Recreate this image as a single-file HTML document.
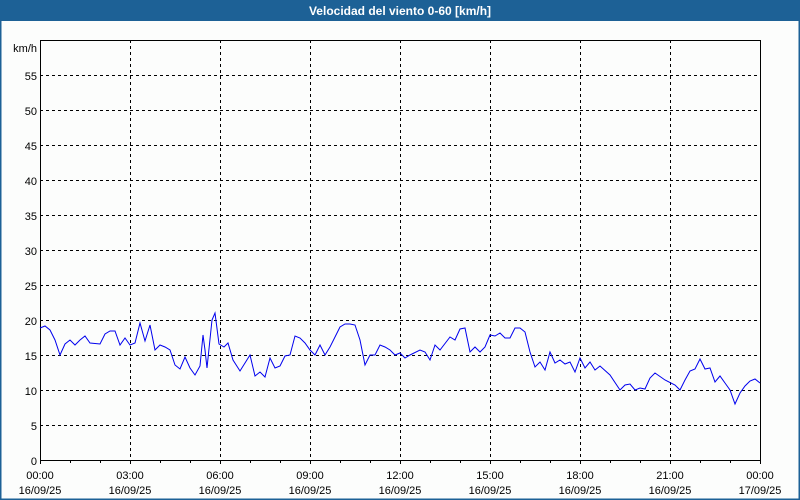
<!DOCTYPE html>
<html><head><meta charset="utf-8"><style>
body{margin:0;width:800px;height:500px;overflow:hidden;background:#fcfdfc;font-family:"Liberation Sans",Tahoma,sans-serif;}
</style></head><body>
<svg width="800" height="500" xmlns="http://www.w3.org/2000/svg" style="position:absolute;left:0;top:0">
<rect x="0" y="0" width="800" height="500" fill="#fcfdfc"/>
<rect x="0" y="0" width="800" height="21" fill="#1d6196"/>
<rect x="0" y="0" width="1.5" height="500" fill="#1d6196"/>
<rect x="798.5" y="0" width="1.5" height="500" fill="#1d6196"/>
<rect x="0" y="498.5" width="800" height="1.5" fill="#1d6196"/>
<text x="400" y="15" text-anchor="middle" fill="#fff" font-size="12" font-weight="bold">Velocidad del viento 0-60 [km/h]</text>
<g stroke="#000" stroke-width="1" stroke-dasharray="3,3" fill="none">
<path d="M40 425.5H760M40 390.5H760M40 355.5H760M40 320.5H760M40 285.5H760M40 250.5H760M40 215.5H760M40 180.5H760M40 145.5H760M40 110.5H760M40 75.5H760"/>
<path d="M130.5 40V460M220.5 40V460M310.5 40V460M400.5 40V460M490.5 40V460M580.5 40V460M670.5 40V460"/>
</g>
<rect x="40.5" y="40.5" width="720" height="420" fill="none" stroke="#000" stroke-width="1"/>
<g stroke="#000"><path d="M40.5 460v4M70.5 460v3M100.5 460v3M130.5 460v4M160.5 460v3M190.5 460v3M220.5 460v4M250.5 460v3M280.5 460v3M310.5 460v4M340.5 460v3M370.5 460v3M400.5 460v4M430.5 460v3M460.5 460v3M490.5 460v4M520.5 460v3M550.5 460v3M580.5 460v4M610.5 460v3M640.5 460v3M670.5 460v4M700.5 460v3M730.5 460v3M760.5 460v4"/></g>
<g font-size="11" fill="#000" text-anchor="end">
<text x="37" y="465">0</text><text x="37" y="430">5</text><text x="37" y="395">10</text><text x="37" y="360">15</text><text x="37" y="325">20</text><text x="37" y="290">25</text><text x="37" y="255">30</text><text x="37" y="220">35</text><text x="37" y="185">40</text><text x="37" y="150">45</text><text x="37" y="115">50</text><text x="37" y="80">55</text><text x="37" y="52">km/h</text>
</g>
<g font-size="11" fill="#000" text-anchor="middle">
<text x="40" y="479">00:00</text><text x="40" y="494">16/09/25</text>
<text x="130" y="479">03:00</text><text x="130" y="494">16/09/25</text>
<text x="220" y="479">06:00</text><text x="220" y="494">16/09/25</text>
<text x="310" y="479">09:00</text><text x="310" y="494">16/09/25</text>
<text x="400" y="479">12:00</text><text x="400" y="494">16/09/25</text>
<text x="490" y="479">15:00</text><text x="490" y="494">16/09/25</text>
<text x="580" y="479">18:00</text><text x="580" y="494">16/09/25</text>
<text x="670" y="479">21:00</text><text x="670" y="494">16/09/25</text>
<text x="760" y="479">00:00</text><text x="760" y="494">17/09/25</text>
</g>
<polyline fill="none" stroke="#0000ee" stroke-width="1" points="40,328 45,326 50,330 55,340 60,355 65,344 70,340 75,345 80,340 85,336 90,343 100,344 105,334 110,331 115,331 120,345 125,338 130,345 135,343 140,323 145,341 150,325 155,350 160,345 165,347 170,350 175,365 180,369 185,357 190,368 195,375 200,366 203,335 205,350 207,368 212,320 215,313 219,344 224,347 228,343 233,360 240,371 250,355 255,376 260,372 265,377 270,358 275,368 280,366 285,356 290,355 295,336 300,338 305,343 310,350 315,355 320,345 325,355 330,347 335,337 340,327 345,324 350,324 355,325 360,340 365,365 370,355 375,355 380,345 385,347 390,350 395,355 400,353 405,358 410,355 420,350 425,352 430,360 435,345 440,350 450,337 455,340 460,329 465,328 470,352 475,347 480,352 485,347 490,335 495,336 500,333 505,338 510,338 515,328 520,328 525,332 530,352 535,367 540,362 545,370 550,352 555,363 560,360 565,364 570,362 575,372 580,358 585,368 590,362 595,370 600,366 610,375 620,390 625,385 630,384 635,390 640,388 645,389 650,378 655,373 665,380 675,385 680,390 685,380 690,371 695,369 700,359 705,369 710,368 715,382 720,376 725,383 730,390 735,404 740,393 745,386 750,381 755,379 760,383"/>
</svg>
</body></html>
